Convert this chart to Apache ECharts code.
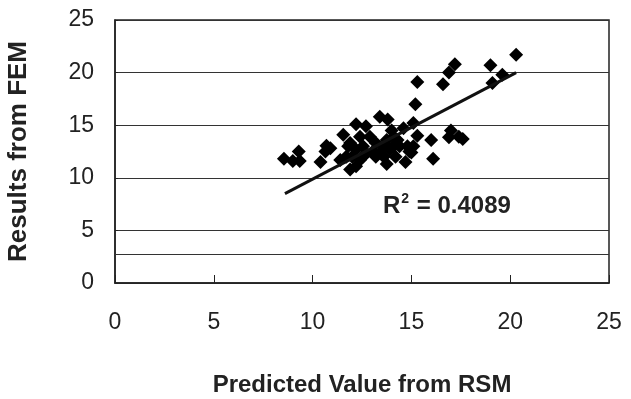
<!DOCTYPE html>
<html>
<head>
    <meta charset="utf-8">
    <title>RSM vs FEM</title>
    <script src="https://cdn.jsdelivr.net/npm/echarts@6/dist/echarts.min.js"></script>
    <style>
        html, body {margin: 0; padding: 0; background: #fff;}
        #chart {width: 631px; height: 399px;}
    </style>
</head>
<body>
<div id="chart"></div>
<script type="text/javascript">
    // predicted (RSM) vs results (FEM)
    var rsmValues = [20.3, 19.0, 17.2, 16.9, 19.6, 19.1, 15.3, 16.6, 15.2, 15.1,
        17.0, 16.9, 17.6, 17.4, 16.0, 16.1, 15.3, 14.7, 15.1, 14.9,
        14.6, 13.75, 14.2, 13.4, 13.8, 14.0, 14.1, 13.75, 14.3, 13.6,
        13.2, 13.4, 13.9, 14.4, 12.2, 12.7, 11.55, 12.4, 12.9, 11.9,
        12.2, 12.55, 12.7, 12.0, 12.4, 11.9, 12.2, 11.4, 10.7, 10.9,
        10.65, 10.4, 9.3, 9.0, 9.35, 8.55, 11.7, 11.8, 12.55, 13.05,
        13.2, 13.6, 14.1, 14.8, 15.0];
    var femValues = [21.7, 20.7, 20.8, 20.0, 19.8, 19.0, 19.1, 18.9, 17.0, 15.2,
        14.5, 13.85, 13.7, 13.9, 13.6, 11.8, 14.0, 11.5, 13.0, 12.5,
        14.7, 11.3, 12.0, 15.8, 15.55, 14.5, 13.9, 13.6, 13.6, 13.0,
        13.3, 12.4, 12.7, 13.0, 15.1, 14.9, 14.1, 13.9, 13.9, 13.3,
        12.7, 13.0, 12.3, 12.0, 11.7, 10.8, 11.1, 11.7, 13.05, 12.8,
        12.5, 11.5, 12.5, 11.6, 11.6, 11.8, 12.0, 13.0, 12.0, 12.5,
        12.0, 12.0, 13.0, 13.0, 12.4];
    // trend line end points
    var trendX = [8.6, 20.3];
    var trendY = [8.5, 20.0];
    var axisTicks = [0, 5, 10, 15, 20, 25];
    var extraLineY = 2.75;
    var r2Text = '0.4089';

    var points = rsmValues.map(function (x, i) { return [x, femValues[i]]; });
    var trend = trendX.map(function (x, i) { return [x, trendY[i]]; });

    var myChart = echarts.init(document.getElementById('chart'));
    var labelFont = {fontFamily: 'Liberation Sans', fontSize: 23, color: '#222'};
    var titleFont = {fontFamily: 'Liberation Sans', fontWeight: 'bold', color: '#222'};

    var option = {
        animation: false,
        grid: {
            left: 115, right: 22, top: 20, bottom: 116,
            outerBoundsMode: 'none',
            show: true, borderColor: '#222', borderWidth: 1.5
        },
        xAxis: {
            type: 'value',
            min: axisTicks[0], max: axisTicks[axisTicks.length - 1], interval: 5,
            name: 'Predicted Value from RSM',
            nameLocation: 'middle',
            nameGap: 90,
            nameTextStyle: Object.assign({fontSize: 24}, titleFont),
            axisLine: {lineStyle: {color: '#222', width: 1.5}},
            axisTick: {inside: true, length: 8, lineStyle: {color: '#222'}},
            axisLabel: Object.assign({margin: 28}, labelFont),
            splitLine: {show: false}
        },
        yAxis: {
            type: 'value',
            min: axisTicks[0], max: axisTicks[axisTicks.length - 1], interval: 5,
            name: 'Results from FEM',
            nameLocation: 'middle',
            nameGap: 83,
            nameTextStyle: Object.assign({fontSize: 26}, titleFont),
            axisLine: {lineStyle: {color: '#222', width: 1.5}},
            axisTick: {inside: true, length: 3, lineStyle: {color: '#222'}},
            axisLabel: Object.assign({margin: 21}, labelFont),
            splitLine: {show: true, lineStyle: {color: '#333', width: 1}}
        },
        series: [{
            type: 'scatter',
            symbol: 'diamond',
            symbolSize: 14,
            itemStyle: {color: '#000', opacity: 1},
            data: points,
            markLine: {
                silent: true,
                symbol: 'none',
                label: {show: false},
                lineStyle: {color: '#333', width: 1, type: 'solid'},
                data: [{yAxis: extraLineY}]
            }
        }, {
            type: 'line',
            data: trend,
            symbol: 'none',
            lineStyle: {color: '#111', width: 3}
        }],
        graphic: [{
            type: 'text',
            left: 383,
            top: 192,
            style: {
                text: '{a|R}{b|2}{a| = ' + r2Text + '}',
                rich: {
                    a: {fontFamily: 'Liberation Sans', fontSize: 24, fontWeight: 'bold', fill: '#222', lineHeight: 28},
                    b: {fontFamily: 'Liberation Sans', fontSize: 14, fontWeight: 'bold', fill: '#222', verticalAlign: 'top', lineHeight: 14, padding: [0, 1, 0, 1]}
                }
            }
        }]
    };

    myChart.setOption(option);
</script>
</body>
</html>
